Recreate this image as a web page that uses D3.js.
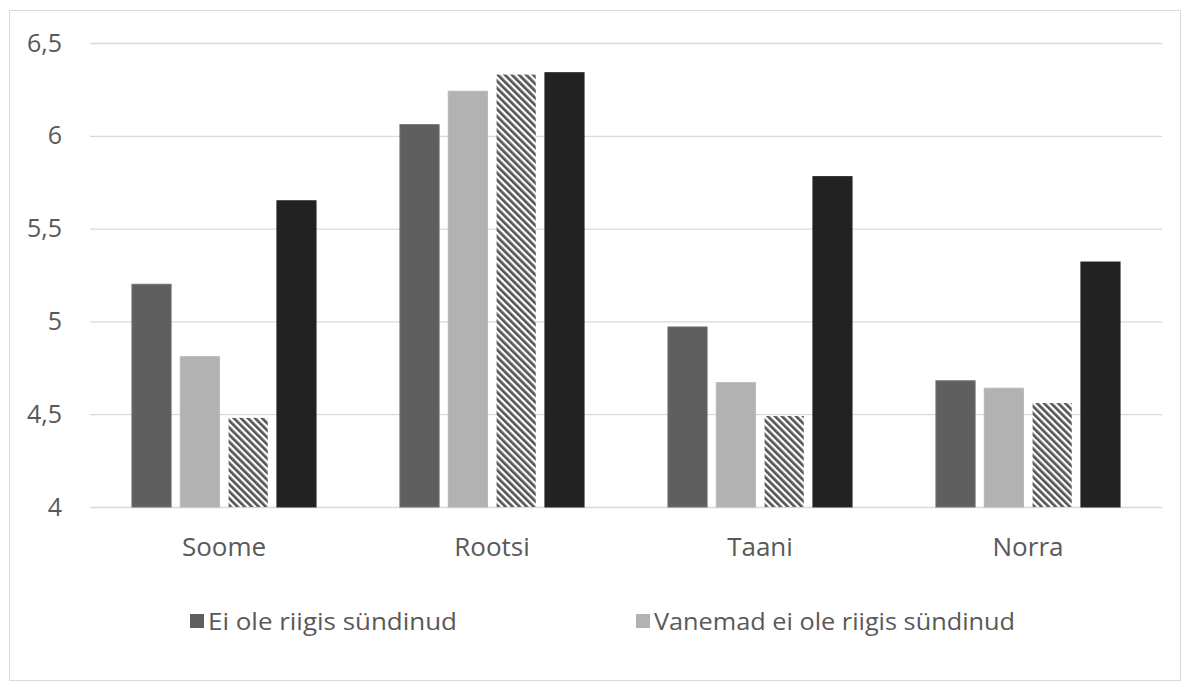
<!DOCTYPE html>
<html><head><meta charset="utf-8">
<script src="https://cdn.jsdelivr.net/npm/d3@7"></script>
<style>body{margin:0;background:#fff}svg{display:block}</style>
</head><body><svg id="c" width="1191" height="692"></svg>
<script>
const categories = ["Soome", "Rootsi", "Taani", "Norra"];
const seriesNames = ["Ei ole riigis sündinud", "Vanemad ei ole riigis sündinud", "Kolmas rühm", "Neljas rühm"];
const s1 = [5.20, 6.06, 4.97, 4.68];
const s2 = [4.81, 6.24, 4.67, 4.64];
const s3 = [4.48, 6.33, 4.49, 4.56];
const s4 = [5.65, 6.34, 5.78, 5.32];
const yTicks = [4, 4.5, 5, 5.5, 6, 6.5];
const legendShown = [0, 1];

const seriesValues = [s1, s2, s3, s4];
const fills = ["#5f5f5f", "#b2b2b2", "url(#hatch)", "#222222"];
const strokes = ["#707070", "#b8b8b8", "none", "#2a2a2a"];

const svg = d3.select("#c");
const defs = svg.append("defs");
const P = 5;
const pat = defs.append("pattern").attr("id","hatch").attr("patternUnits","userSpaceOnUse")
  .attr("width",P).attr("height",P).attr("patternTransform","rotate(-45)");
pat.append("rect").attr("width",P).attr("height",P).attr("fill","#fff");
pat.append("rect").attr("x",0).attr("width",2.7).attr("height",P).attr("fill","#555");

svg.append("rect").attr("x",9.5).attr("y",10.5).attr("width",1171).attr("height",670)
  .attr("fill","#fff").attr("stroke","#d9d9d9");

const y = d3.scaleLinear().domain([4, 6.5]).range([507, 43]);
const x0 = d3.scaleBand().domain(categories).range([90, 1162]).paddingInner(0.313).paddingOuter(0.1565);
const x1 = d3.scaleBand().domain(d3.range(4)).range([0, x0.bandwidth()]).paddingInner(0.19);

const fmt = d => String(d).replace(".", ",");
const yAxis = d3.axisLeft(y).tickValues(yTicks).tickSize(-(1162-90)).tickFormat(fmt).tickPadding(28);
const gy = svg.append("g").attr("transform","translate(90,0)").call(yAxis);
gy.select(".domain").remove();
gy.selectAll(".tick line").attr("stroke","#d9d9d9").attr("stroke-width",1.3);
gy.selectAll(".tick text").attr("fill","#595959").style("font-family","'Open Sans', sans-serif").style("font-size","25px");

const groups = svg.append("g").selectAll("g").data(categories).join("g")
  .attr("transform", d => `translate(${x0(d)},0)`);
groups.selectAll("rect").data((c, ci) => seriesValues.map((arr, si) => ({si, v: arr[ci]})))
  .join("rect")
  .attr("x", d => x1(d.si)).attr("width", x1.bandwidth())
  .attr("y", d => y(d.v)).attr("height", d => y(4) - y(d.v))
  .attr("fill", d => fills[d.si]).attr("stroke", d => strokes[d.si]).attr("stroke-width", 1);

const xAxis = d3.axisBottom(x0).tickSize(0).tickPadding(31);
const gx = svg.append("g").attr("transform","translate(0,507)").call(xAxis);
gx.select(".domain").remove();
gx.selectAll(".tick text").attr("fill","#595959").style("font-family","'Open Sans', sans-serif").style("font-size","26px");

const legendX = [190, 636];
const legendW = [249, 361];
const lg = svg.append("g").selectAll("g").data(legendShown).join("g")
  .attr("transform", (d,i) => `translate(${legendX[i]},614)`);
lg.append("rect").attr("width",14).attr("height",14).attr("fill", d => fills[d]);
lg.append("text").attr("x",18).attr("y",16).text(d => seriesNames[d])
  .attr("textLength", (d,i) => legendW[i]).attr("lengthAdjust","spacingAndGlyphs")
  .attr("fill","#595959").style("font-family","'Open Sans', sans-serif").style("font-size","24px");
</script></body></html>
